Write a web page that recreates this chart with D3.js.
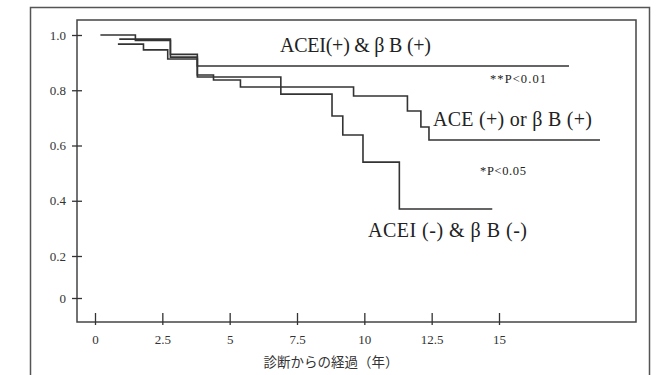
<!DOCTYPE html>
<html>
<head>
    <meta charset="utf-8">
    <script src="https://d3js.org/d3.v7.min.js"></script>
    <style>
        body { margin: 0; background: #fff; }
        .tick text { font-family: "Liberation Serif", serif; font-size: 13px; fill: #333; }
        .curve { fill: none; stroke: #333; stroke-width: 1.6px; }
        .label { font-family: "Liberation Serif", serif; fill: #222; }
    </style>
</head>
<body>
    <div id="chart"></div>
    <script>
        // 各群の生存曲線 (時間: 年, 生存率)
        const times1 = [0.2, 1.5, 2.8, 3.8, 17.6];
        const surv1 = [1.0, 0.98, 0.93, 0.888, 0.888];

        const times2 = [0.9, 2.8, 3.8, 4.4, 5.4, 9.6, 11.6, 12.1, 12.4, 18.75];
        const surv2 = [0.985, 0.92, 0.855, 0.837, 0.812, 0.779, 0.725, 0.667, 0.62, 0.62];

        const times3 = [0.85, 1.8, 2.7, 3.8, 6.9, 8.8, 9.2, 9.95, 11.3, 14.75];
        const surv3 = [0.967, 0.946, 0.913, 0.848, 0.786, 0.707, 0.638, 0.54, 0.37, 0.37];

        const xTicks = [0, 2.5, 5, 7.5, 10, 12.5, 15];
        const yTicks = [0, 0.2, 0.4, 0.6, 0.8, 1.0];

        const width = 665, height = 375;
        const box = {left: 77, top: 20, right: 636, bottom: 322};

        const svg = d3.select("#chart").append("svg")
            .attr("width", width)
            .attr("height", height);

        // 外枠
        svg.append("path")
            .attr("d", "M30.5,380 V7.5 H649.5 V380")
            .attr("fill", "none")
            .attr("stroke", "#555")
            .attr("stroke-width", 1.5);

        const x = d3.scaleLinear().domain([0, 15]).range([95, 499]);
        // 0 の目盛りだけ間隔が狭い
        const y = d3.scaleLinear().domain([0, 0.2, 1]).range([298, 256, 35]);

        svg.append("rect")
            .attr("x", box.left).attr("y", box.top)
            .attr("width", box.right - box.left)
            .attr("height", box.bottom - box.top)
            .attr("fill", "none")
            .attr("stroke", "#444")
            .attr("stroke-width", 1.5);

        const yAxis = svg.append("g")
            .attr("transform", `translate(${box.left},0)`)
            .call(d3.axisLeft(y).tickValues(yTicks).tickSize(5).tickPadding(6)
                .tickFormat(d => d === 0 ? "0" : d3.format(".1f")(d)));
        yAxis.select(".domain").remove();
        yAxis.selectAll(".tick line").attr("x1", 5).attr("stroke", "#333").attr("stroke-width", 1.3);

        const xAxis = svg.append("g")
            .attr("transform", `translate(0,${box.bottom})`)
            .call(d3.axisBottom(x).tickValues(xTicks).tickSize(3).tickPadding(10)
                .tickFormat(d => String(d)));
        xAxis.select(".domain").remove();
        xAxis.selectAll(".tick line").attr("y1", -9).attr("stroke", "#333").attr("stroke-width", 1.3);

        const line = d3.line()
            .x(d => x(d[0]))
            .y(d => y(d[1]))
            .curve(d3.curveStepAfter);

        const series = [
            {t: times1, s: surv1, w: 1.6},
            {t: times2, s: surv2, w: 1.6},
            {t: times3, s: surv3, w: 2.1}
        ];

        series.forEach(sr => {
            svg.append("path")
                .attr("class", "curve")
                .attr("stroke-width", sr.w)
                .attr("d", line(sr.t.map((t, i) => [t, sr.s[i]])));
        });

        const labels = [
            {text: "ACEI(+) & β B (+)", x: 280, y: 52, size: 20, len: 151},
            {text: "**P<0.01", x: 490, y: 83, size: 12.5, len: 56},
            {text: "ACE (+) or  β B (+)", x: 433, y: 126, size: 20, len: 159},
            {text: "*P<0.05", x: 480, y: 175, size: 12.5, len: 46},
            {text: "ACEI (-) &  β B (-)", x: 368, y: 237, size: 20, len: 159}
        ];

        svg.selectAll(".label")
            .data(labels)
            .enter().append("text")
            .attr("class", "label")
            .attr("x", d => d.x)
            .attr("y", d => d.y)
            .attr("textLength", d => d.len)
            .attr("lengthAdjust", "spacing")
            .style("font-size", d => d.size + "px")
            .text(d => d.text);

        svg.append("text")
            .attr("x", 331).attr("y", 367)
            .attr("text-anchor", "middle")
            .style("font-family", "'Noto Sans CJK JP', sans-serif")
            .style("font-size", "13.5px")
            .style("fill", "#333")
            .text("診断からの経過（年）");
    </script>
</body>
</html>
